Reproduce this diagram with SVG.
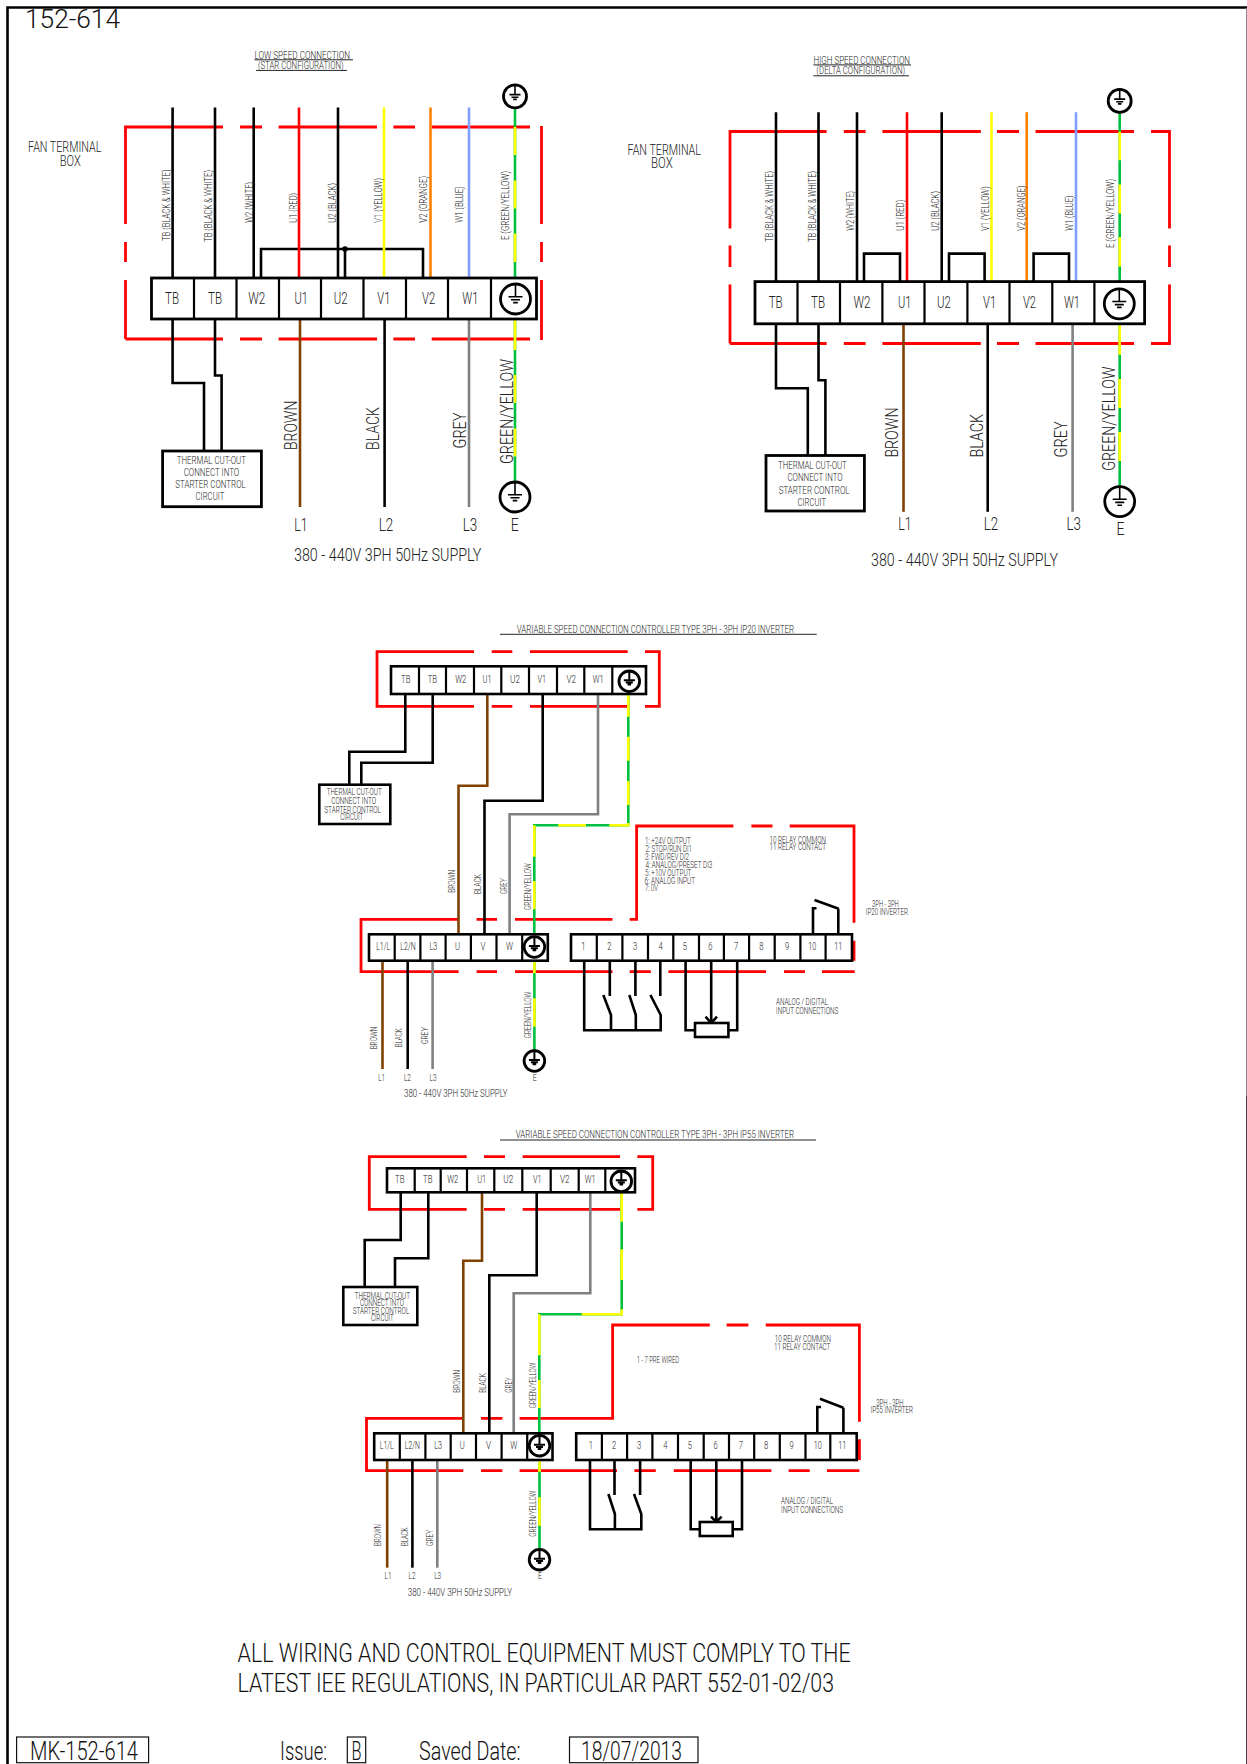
<svg xmlns="http://www.w3.org/2000/svg" xmlns:xlink="http://www.w3.org/1999/xlink" width="1247" height="1764" viewBox="0 0 1247 1764">
<style>
text{font-family:Roboto,"Liberation Sans",Arial,sans-serif;font-weight:300;fill:#222}
.m{text-anchor:middle}
.f26{font-size:26px;fill:#111}.f19{font-size:19px}.f17{font-size:17px}.f15{font-size:14.5px}.f12{font-size:12px}.f11{font-size:11px}.f105{font-size:10.5px}.f10{font-size:10px}.f9{font-size:9px}
.k{stroke:#000;stroke-width:2.6;fill:none}
.r{stroke:#f00;stroke-width:2.8;fill:none}
.br{stroke:#804000;stroke-width:2.6;fill:none}
.gr{stroke:#808080;stroke-width:2.6;fill:none}
.ye{stroke:#ff0;stroke-width:2.6;fill:none}
.gn{stroke:#00c040;stroke-width:2.6;fill:none}
.or{stroke:#ff8000;stroke-width:2.6;fill:none}
.bl{stroke:#80a0ff;stroke-width:2.6;fill:none}
.rd{stroke:#f00;stroke-width:2.6;fill:none}
.u{stroke:#222;stroke-width:1;fill:none}
.box{fill:#fff;stroke:#000;stroke-width:2.8}
.sbox{fill:#fff;stroke:#000;stroke-width:2.6}
.div{stroke:#000;stroke-width:2.2;fill:none}
.ec{fill:#fff;stroke:#000;stroke-width:2.8}
.eb{fill:none;stroke:#000;stroke-width:1.6}
.tb{fill:none;stroke:#111;stroke-width:1.2}
</style>
<defs>
<g id="earthL"><circle class="ec" r="15"/><path class="eb" d="M0-15V-2.5M-7-2.3H7M-4.5 .8H4.5M-2.3 3.6H2.3"/></g>
<g id="earthM"><circle class="ec" r="11.5"/><path class="eb" d="M0-11.5V-2M-5.5-1.8H5.5M-3.5 .8H3.5M-1.8 3H1.8"/></g>
<g id="earthS"><circle class="ec" r="10.3"/><path class="eb" style="stroke-width:2" d="M0-10V-1M-5.5-1H5.5M-3.5 1.2H3.5M-1.8 3.2H1.8"/></g>
</defs>

<g id="page">
<path d="M7.5 1764V7.5H1247" fill="none" stroke="#000" stroke-width="2.6"/>
<path d="M1246.5 8V1096" fill="none" stroke="#888" stroke-width="1"/>
<path d="M1246.5 1096V1764" fill="none" stroke="#444" stroke-width="1"/>
<text class="f26" x="25" y="28" textLength="95" lengthAdjust="spacingAndGlyphs">152-614</text>
</g>

<g id="connectors">
<!-- diagram 1 -->
<path class="r" d="M125.5 127H223M240 127H262M278.6 127H377M393.4 127H415M431.7 127H530M125.5 125.6V224M125.5 242V262M125.5 280V339M125.5 339H223M240 339H262M278.6 339H377M393.4 339H415M431.7 339H530M541.5 126V224M541.5 242V262M541.5 280V340"/>
<path class="k" d="M172.6 107.5V278M215 107.5V278M253.7 107.5V278M338 107.5V278M261 278V249H423V278M345 249V278"/>
<circle cx="345" cy="249" r="2.8" fill="#000"/>
<path class="rd" d="M299 107.5V278"/><path class="ye" d="M384 107.5V278"/><path class="or" d="M430.5 107.5V278"/><path class="bl" d="M469 107.5V278"/>
<path class="gn" d="M515 108V278M515 319V482"/>
<path class="ye" d="M515 127V155M515 180.6V208.6M515 233.5V262M515 319V350M515 375V403M515 428.6V456.6"/>
<path class="k" d="M172.6 319V383H204V451M215 319V375.5H221.6V451"/>
<path class="br" d="M300 319V507"/><path class="k" d="M384.6 319V507"/><path class="gr" d="M469 319V507"/>
<!-- diagram 2 -->
<path class="r" d="M730 131.5H826.6M843.8 131.5H865.6M882.4 131.5H980.8M997 131.5H1019M1035.5 131.5H1134M1151 131.5H1170.9M730 130.1V228.5M730 245.6V267M730 284.5V343.5M730 343.5H826.6M843.8 343.5H865.6M882.4 343.5H980.8M997 343.5H1019M1035.5 343.5H1134M1151 343.5H1170.9M1169.5 130.1V228.5M1169.5 245.6V267M1169.5 284.5V344.9"/>
<path class="k" d="M776 112.2V281.6M818.5 112.2V281.6M857 112.2V281.6M941.7 112.2V281.6M864 281.6V253.6H900V281.6M949 281.6V253.6H984.6V281.6M1033.6 281.6V253.6H1069V281.6"/>
<path class="rd" d="M907 112.2V281.6"/><path class="ye" d="M991.5 112.2V281.6"/><path class="or" d="M1026.7 112.2V281.6"/><path class="bl" d="M1076 112.2V281.6"/>
<path class="gn" d="M1119.7 112.2V281.6M1119.7 323.8V487"/>
<path class="ye" d="M1119.7 131.8V160.2M1119.7 184.5V213.6M1119.7 237.3V266.4M1119.7 323.8V354.7M1119.7 379V408M1119.7 432V461"/>
<path class="k" d="M776 323.8V388.2H807.8V455.5M818.5 323.8V380.2H825.4V455.5"/>
<path class="br" d="M903.5 323.8V511.8"/><path class="k" d="M987.7 323.8V511.8"/><path class="gr" d="M1072.6 323.8V511.8"/>
<!-- diagram 3 -->
<path class="r" d="M377 651.7H474M491.7 651.7H512.3M530 651.7H627.7M645 651.7H660.7M377 650.3V707.7M377 706.3H474M491.7 706.3H512.3M530 706.3H627.7M645 706.3H660.7M659.3 650.3V707.7"/>
<path class="r" d="M458.6 919.3H361V971.7H458.6M476.6 919.3H497M476.6 971.7H497M515 919.3H612.5M515 971.7H612.5M629.7 919.3H636.6V826H733.4M751.4 826H772.5M789.7 826H854V922.7M629.7 971.7H650.8M668.4 971.7H766M784 971.7H805M822 971.7H854.7M854 940.7V960.7"/>
<path class="k" d="M405.3 694V751.7H349.3V784.3M432.7 694V762.7H361.3V784.3"/>
<path class="br" d="M487.3 694V785.7H458.5V934.3"/>
<path class="k" d="M542.7 694V800.7H484.5V934.3"/>
<path class="gr" d="M598 694V814.3H509.6V934.3"/>
<path class="gn" d="M628.3 694V825.3H534.3V934.3M534.4 960.7V1051"/>
<path class="ye" d="M628.3 694V716.7M628.3 736.7V760.7M628.3 781V805M628.3 823V825.3H609.3M586 825.3H558.3M534.3 825.3V856.7M534.3 881V909.3M534.4 960.7V973.3M534.4 998.3V1026.7"/>
<path class="br" d="M382.5 960.7V1069"/><path class="k" d="M407.7 960.7V1069"/><path class="gr" d="M432.6 960.7V1069"/>
<path class="k" d="M813 934V908.3H816.5M814.5 900L838.7 908.7M838.3 908.7V934"/>
<path class="k" d="M584.2 960.7V1030.3H660.7V1015L650.4 995M609.8 960.7V996M603.3 995L611 1015V1030.3M635.4 960.7V996M629.3 995L635.8 1015V1030.3M660.3 960.7V996"/>
<path class="k" d="M685.6 960.7V1030.3H695M737.2 960.7V1030.3H728.4M711.2 960.7V1023M705.5 1016.7L711.2 1023L717 1016.7"/>
<!-- diagram 4 -->
<path class="r" d="M369.3 1156.7H466.7M484 1156.7H505M522.7 1156.7H620M637.3 1156.7H654.1M369.3 1155.3V1210.7M369.3 1209.3H466.7M484 1209.3H505M522.7 1209.3H620M637.3 1209.3H654.1M652.7 1155.3V1210.7"/>
<path class="r" d="M463.3 1418.3H366.5V1470.7H463.3M481 1418.3H502.4M481 1470.7H502.4M519.6 1418.3H612.6V1325H709.8M726.6 1325H748.4M765.7 1325H859.4V1421.7M519.6 1470.7H617M634.4 1470.7H655.8M673.8 1470.7H771.4M788.6 1470.7H809.7M826.9 1470.7H859.4M859.4 1439.3V1460"/>
<path class="k" d="M400.7 1192.3V1240H364.7V1286.7M428.3 1192.3V1258.3H395V1286.7"/>
<path class="br" d="M482 1192.3V1260.7H463.3V1433.3"/>
<path class="k" d="M536.7 1192.3V1275.3H489.3V1433.3"/>
<path class="gr" d="M590.3 1192.3V1293.3H513.7V1433.3"/>
<path class="gn" d="M621.7 1192.3V1314.3H539.3V1433.3M539.5 1460V1550"/>
<path class="ye" d="M621.7 1192.3V1221.7M621.7 1249.3V1280M621.7 1309.3V1314.3H581.7M539.3 1314.3V1355.3M539.3 1380V1408M539.5 1460V1471.7M539.5 1497.3V1525.7"/>
<path class="br" d="M387.2 1460V1567.7"/><path class="k" d="M412.4 1460V1567.7"/><path class="gr" d="M437.3 1460V1567.7"/>
<path class="k" d="M817.3 1433V1407H821M820 1398.7L843.4 1407.7M843.4 1407.7V1433"/>
<path class="k" d="M590 1460V1529.3H641.3V1514L634 1494M614.5 1460V1495M608.4 1494L614.9 1514V1529.3M640.1 1460V1495"/>
<path class="k" d="M690.7 1460V1529.3H699.8M742 1460V1529.3H732.7M716.3 1460V1522M711 1516.7L716.3 1522L721.6 1516.7"/>
<!-- title underlines -->
<path class="u" d="M254.5 59.8H353M256 70.4H347M813.5 64.9H911M813.5 75.8H909M500 634.3H816.7M500 1140H816"/>
</g>

<g id="d1-strip">
<rect class="box" x="151.5" y="278" width="385" height="41"/>
<path class="div" d="M194 278V319M236.5 278V319M279 278V319M321 278V319M363.5 278V319M406 278V319M448 278V319M491 278V319"/>
<text class="m f17" x="172" y="304.2" textLength="14" lengthAdjust="spacingAndGlyphs">TB</text>
<text class="m f17" x="215" y="304.2" textLength="14" lengthAdjust="spacingAndGlyphs">TB</text>
<text class="m f17" x="256.8" y="304.2" textLength="17" lengthAdjust="spacingAndGlyphs">W2</text>
<text class="m f17" x="301.2" y="304.2" textLength="13.4" lengthAdjust="spacingAndGlyphs">U1</text>
<text class="m f17" x="340.6" y="304.2" textLength="13.8" lengthAdjust="spacingAndGlyphs">U2</text>
<text class="m f17" x="383.8" y="304.2" textLength="13" lengthAdjust="spacingAndGlyphs">V1</text>
<text class="m f17" x="428.6" y="304.2" textLength="13" lengthAdjust="spacingAndGlyphs">V2</text>
<text class="m f17" x="470.3" y="304.2" textLength="16" lengthAdjust="spacingAndGlyphs">W1</text>
<use xlink:href="#earthL" href="#earthL" transform="translate(515.5 299)"/>
</g>
<g id="d1-earth-top"><use xlink:href="#earthM" href="#earthM" transform="translate(515 96.4)"/></g>
<g id="d1-earth-bottom"><use xlink:href="#earthL" href="#earthL" transform="translate(515 497)"/></g>
<g id="d1-thermal">
<rect class="box" x="162.6" y="451" width="98.8" height="55.7"/>
<text class="f105" x="176.8" y="463.8" textLength="69.2" lengthAdjust="spacingAndGlyphs">THERMAL CUT-OUT</text>
<text class="f105" x="183.7" y="476" textLength="55.5" lengthAdjust="spacingAndGlyphs">CONNECT INTO</text>
<text class="f105" x="175.3" y="488" textLength="70.4" lengthAdjust="spacingAndGlyphs">STARTER CONTROL</text>
<text class="f105" x="195.6" y="500.2" textLength="28.7" lengthAdjust="spacingAndGlyphs">CIRCUIT</text>
</g>
<g id="d1-labels">
<text class="f105" x="254.5" y="58.5" textLength="95.5" lengthAdjust="spacingAndGlyphs">LOW SPEED CONNECTION</text>
<text class="f105" x="258" y="69.3" textLength="85.6" lengthAdjust="spacingAndGlyphs">(STAR CONFIGURATION)</text>
<text class="f15" x="28" y="151.5" textLength="73.4" lengthAdjust="spacingAndGlyphs">FAN TERMINAL</text>
<text class="f15" x="59.7" y="165.5" textLength="21" lengthAdjust="spacingAndGlyphs">BOX</text>
<text class="f11" transform="translate(169.5 241) rotate(-90)" textLength="71.5" lengthAdjust="spacingAndGlyphs">TB (BLACK &amp; WHITE)</text>
<text class="f11" transform="translate(212.4 242) rotate(-90)" textLength="72" lengthAdjust="spacingAndGlyphs">TB (BLACK &amp; WHITE)</text>
<text class="f11" transform="translate(252.5 222.7) rotate(-90)" textLength="40.7" lengthAdjust="spacingAndGlyphs">W2 (WHITE)</text>
<text class="f11" transform="translate(297 222.7) rotate(-90)" textLength="29.7" lengthAdjust="spacingAndGlyphs">U1 (RED)</text>
<text class="f11" transform="translate(336 222.7) rotate(-90)" textLength="39.7" lengthAdjust="spacingAndGlyphs">U2 (BLACK)</text>
<text class="f11" transform="translate(382 222.7) rotate(-90)" textLength="44.7" lengthAdjust="spacingAndGlyphs">V1 (YELLOW)</text>
<text class="f11" transform="translate(426.7 222.7) rotate(-90)" textLength="46.7" lengthAdjust="spacingAndGlyphs">V2 (ORANGE)</text>
<text class="f11" transform="translate(463 222.7) rotate(-90)" textLength="36.3" lengthAdjust="spacingAndGlyphs">W1 (BLUE)</text>
<text class="f11" transform="translate(509 240) rotate(-90)" textLength="69" lengthAdjust="spacingAndGlyphs">E (GREEN/YELLOW)</text>
<text class="f19" transform="translate(296.6 450) rotate(-90)" textLength="49.3" lengthAdjust="spacingAndGlyphs">BROWN</text>
<text class="f19" transform="translate(379 450) rotate(-90)" textLength="43" lengthAdjust="spacingAndGlyphs">BLACK</text>
<text class="f19" transform="translate(465.7 448.5) rotate(-90)" textLength="36" lengthAdjust="spacingAndGlyphs">GREY</text>
<text class="f19" transform="translate(512.8 464) rotate(-90)" textLength="105" lengthAdjust="spacingAndGlyphs">GREEN/YELLOW</text>
<text class="m f19" x="301" y="531" textLength="13.4" lengthAdjust="spacingAndGlyphs">L1</text>
<text class="m f19" x="386" y="531" textLength="14.5" lengthAdjust="spacingAndGlyphs">L2</text>
<text class="m f19" x="470" y="531" textLength="14.5" lengthAdjust="spacingAndGlyphs">L3</text>
<text class="m f19" x="514.7" y="531" textLength="8" lengthAdjust="spacingAndGlyphs">E</text>
<text class="f19" x="294" y="561" textLength="187.4" lengthAdjust="spacingAndGlyphs">380 - 440V 3PH 50Hz SUPPLY</text>
</g>

<g id="d2-strip">
<rect class="box" x="755" y="281.6" width="389.6" height="42.2"/>
<path class="div" d="M797.5 281.6V323.8M840 281.6V323.8M882.4 281.6V323.8M924.5 281.6V323.8M967.4 281.6V323.8M1009.5 281.6V323.8M1052.3 281.6V323.8M1094.4 281.6V323.8"/>
<text class="m f17" x="775.7" y="308.2" textLength="14" lengthAdjust="spacingAndGlyphs">TB</text>
<text class="m f17" x="818" y="308.2" textLength="14" lengthAdjust="spacingAndGlyphs">TB</text>
<text class="m f17" x="862" y="308.2" textLength="17" lengthAdjust="spacingAndGlyphs">W2</text>
<text class="m f17" x="904.6" y="308.2" textLength="13.4" lengthAdjust="spacingAndGlyphs">U1</text>
<text class="m f17" x="944" y="308.2" textLength="13.8" lengthAdjust="spacingAndGlyphs">U2</text>
<text class="m f17" x="989.6" y="308.2" textLength="13" lengthAdjust="spacingAndGlyphs">V1</text>
<text class="m f17" x="1029.4" y="308.2" textLength="13" lengthAdjust="spacingAndGlyphs">V2</text>
<text class="m f17" x="1071.9" y="308.2" textLength="16" lengthAdjust="spacingAndGlyphs">W1</text>
<use xlink:href="#earthL" href="#earthL" transform="translate(1119.3 303.8)"/>
</g>
<g id="d2-earth-top"><use xlink:href="#earthM" href="#earthM" transform="translate(1119.7 100.9)"/></g>
<g id="d2-earth-bottom"><use xlink:href="#earthL" href="#earthL" transform="translate(1119.7 501.6)"/></g>
<g id="d2-thermal">
<rect class="box" x="766" y="455.5" width="98.4" height="55.5"/>
<text class="f105" x="778" y="469" textLength="68.8" lengthAdjust="spacingAndGlyphs">THERMAL CUT-OUT</text>
<text class="f105" x="787.5" y="481.3" textLength="55.1" lengthAdjust="spacingAndGlyphs">CONNECT INTO</text>
<text class="f105" x="778.7" y="494" textLength="70.8" lengthAdjust="spacingAndGlyphs">STARTER CONTROL</text>
<text class="f105" x="797.5" y="506" textLength="28.5" lengthAdjust="spacingAndGlyphs">CIRCUIT</text>
</g>
<g id="d2-labels">
<text class="f105" x="813.5" y="63.5" textLength="96.5" lengthAdjust="spacingAndGlyphs">HIGH SPEED CONNECTION</text>
<text class="f105" x="816.6" y="74.4" textLength="88.4" lengthAdjust="spacingAndGlyphs">(DELTA CONFIGURATION)</text>
<text class="f15" x="627.5" y="154.7" textLength="73.5" lengthAdjust="spacingAndGlyphs">FAN TERMINAL</text>
<text class="f15" x="651" y="168.2" textLength="21.7" lengthAdjust="spacingAndGlyphs">BOX</text>
<text class="f11" transform="translate(773.4 242) rotate(-90)" textLength="71" lengthAdjust="spacingAndGlyphs">TB (BLACK &amp; WHITE)</text>
<text class="f11" transform="translate(816 242) rotate(-90)" textLength="71" lengthAdjust="spacingAndGlyphs">TB (BLACK &amp; WHITE)</text>
<text class="f11" transform="translate(853.7 230.7) rotate(-90)" textLength="39.7" lengthAdjust="spacingAndGlyphs">W2 (WHITE)</text>
<text class="f11" transform="translate(903.5 230.7) rotate(-90)" textLength="30.9" lengthAdjust="spacingAndGlyphs">U1 (RED)</text>
<text class="f11" transform="translate(938.7 230.7) rotate(-90)" textLength="39.7" lengthAdjust="spacingAndGlyphs">U2 (BLACK)</text>
<text class="f11" transform="translate(988.8 230.7) rotate(-90)" textLength="44.3" lengthAdjust="spacingAndGlyphs">V1 (YELLOW)</text>
<text class="f11" transform="translate(1024.8 230.7) rotate(-90)" textLength="45.1" lengthAdjust="spacingAndGlyphs">V2 (ORANGE)</text>
<text class="f11" transform="translate(1073.4 230.7) rotate(-90)" textLength="35.2" lengthAdjust="spacingAndGlyphs">W1 (BLUE)</text>
<text class="f11" transform="translate(1113.6 248) rotate(-90)" textLength="69" lengthAdjust="spacingAndGlyphs">E (GREEN/YELLOW)</text>
<text class="f19" transform="translate(897.7 457.6) rotate(-90)" textLength="50.1" lengthAdjust="spacingAndGlyphs">BROWN</text>
<text class="f19" transform="translate(983 457.6) rotate(-90)" textLength="43.6" lengthAdjust="spacingAndGlyphs">BLACK</text>
<text class="f19" transform="translate(1067 457.6) rotate(-90)" textLength="36.3" lengthAdjust="spacingAndGlyphs">GREY</text>
<text class="f19" transform="translate(1114.7 470.7) rotate(-90)" textLength="104.3" lengthAdjust="spacingAndGlyphs">GREEN/YELLOW</text>
<text class="m f19" x="905" y="530" textLength="13.4" lengthAdjust="spacingAndGlyphs">L1</text>
<text class="m f19" x="991" y="530" textLength="14.5" lengthAdjust="spacingAndGlyphs">L2</text>
<text class="m f19" x="1073.8" y="530" textLength="14.5" lengthAdjust="spacingAndGlyphs">L3</text>
<text class="m f19" x="1120.5" y="534.7" textLength="8" lengthAdjust="spacingAndGlyphs">E</text>
<text class="f19" x="871" y="566" textLength="187" lengthAdjust="spacingAndGlyphs">380 - 440V 3PH 50Hz SUPPLY</text>
</g>

<g id="d3-motor-strip">
<rect class="sbox" x="391" y="666.3" width="255" height="27.7"/>
<path class="div" d="M419 666.3V694M446 666.3V694M474 666.3V694M501.3 666.3V694M529 666.3V694M557 666.3V694M584.3 666.3V694M612.3 666.3V694"/>
<text class="m f11" x="405.7" y="682.7" textLength="9.3" lengthAdjust="spacingAndGlyphs">TB</text>
<text class="m f11" x="432.3" y="682.7" textLength="9.3" lengthAdjust="spacingAndGlyphs">TB</text>
<text class="m f11" x="460.7" y="682.7" textLength="11" lengthAdjust="spacingAndGlyphs">W2</text>
<text class="m f11" x="487" y="682.7" textLength="9" lengthAdjust="spacingAndGlyphs">U1</text>
<text class="m f11" x="515" y="682.7" textLength="10" lengthAdjust="spacingAndGlyphs">U2</text>
<text class="m f11" x="541.7" y="682.7" textLength="8.5" lengthAdjust="spacingAndGlyphs">V1</text>
<text class="m f11" x="571.3" y="682.7" textLength="9.5" lengthAdjust="spacingAndGlyphs">V2</text>
<text class="m f11" x="598.3" y="682.7" textLength="11" lengthAdjust="spacingAndGlyphs">W1</text>
<use xlink:href="#earthS" href="#earthS" transform="translate(629.3 681.3)"/>
</g>
<g id="d3-thermal">
<rect class="sbox" x="319.3" y="784.7" width="71" height="39.3"/>
<text class="f9" x="326.7" y="795" textLength="55" lengthAdjust="spacingAndGlyphs">THERMAL CUT-OUT</text>
<text class="f9" x="331.3" y="804" textLength="44.7" lengthAdjust="spacingAndGlyphs">CONNECT INTO</text>
<text class="f9" x="324.3" y="813" textLength="56.7" lengthAdjust="spacingAndGlyphs">STARTER CONTROL</text>
<text class="f9" x="340.3" y="820" textLength="23" lengthAdjust="spacingAndGlyphs">CIRCUIT</text>
</g>
<g id="d3-input-strip">
<rect class="sbox" x="369" y="934.3" width="178.8" height="26.4"/>
<path class="div" d="M394.7 934.3V960.7M420.4 934.3V960.7M445.6 934.3V960.7M470.9 934.3V960.7M496.5 934.3V960.7M522.2 934.3V960.7"/>
<text class="m f11" x="383.2" y="950" textLength="14" lengthAdjust="spacingAndGlyphs">L1/L</text>
<text class="m f11" x="408" y="950" textLength="15.3" lengthAdjust="spacingAndGlyphs">L2/N</text>
<text class="m f11" x="433.4" y="950" textLength="7.7" lengthAdjust="spacingAndGlyphs">L3</text>
<text class="m f11" x="457.5" y="950" textLength="5" lengthAdjust="spacingAndGlyphs">U</text>
<text class="m f11" x="483" y="950" textLength="5" lengthAdjust="spacingAndGlyphs">V</text>
<text class="m f11" x="509.5" y="950" textLength="7" lengthAdjust="spacingAndGlyphs">W</text>
<use xlink:href="#earthS" href="#earthS" transform="translate(534.4 947)"/>
</g>
<g id="d3-control-strip">
<rect class="sbox" x="571" y="934.3" width="281" height="26.4"/>
<path class="div" d="M596.8 934.3V960.7M622.4 934.3V960.7M648 934.3V960.7M673.3 934.3V960.7M699 934.3V960.7M723.9 934.3V960.7M749.1 934.3V960.7M774.7 934.3V960.7M800.4 934.3V960.7M825.6 934.3V960.7"/>
<text class="m f11" x="583.4" y="950" textLength="4.2" lengthAdjust="spacingAndGlyphs">1</text><text class="m f11" x="609.4" y="950" textLength="4.2" lengthAdjust="spacingAndGlyphs">2</text><text class="m f11" x="635" y="950" textLength="4.2" lengthAdjust="spacingAndGlyphs">3</text><text class="m f11" x="660.7" y="950" textLength="4.2" lengthAdjust="spacingAndGlyphs">4</text><text class="m f11" x="684.8" y="950" textLength="4.2" lengthAdjust="spacingAndGlyphs">5</text><text class="m f11" x="710.4" y="950" textLength="4.2" lengthAdjust="spacingAndGlyphs">6</text><text class="m f11" x="736" y="950" textLength="4.2" lengthAdjust="spacingAndGlyphs">7</text><text class="m f11" x="761.4" y="950" textLength="4.2" lengthAdjust="spacingAndGlyphs">8</text><text class="m f11" x="787" y="950" textLength="4.2" lengthAdjust="spacingAndGlyphs">9</text>
<text class="m f11" x="812.3" y="950" textLength="8" lengthAdjust="spacingAndGlyphs">10</text><text class="m f11" x="838.3" y="950" textLength="8" lengthAdjust="spacingAndGlyphs">11</text>
</g>
<g id="d3-earth-bottom"><use xlink:href="#earthS" href="#earthS" transform="translate(534.4 1061)"/></g>
<g id="d3-pot"><rect class="sbox" x="695" y="1023" width="33.4" height="14"/></g>
<g id="d3-labels">
<text class="f10" x="516.7" y="632.7" textLength="277.3" lengthAdjust="spacingAndGlyphs">VARIABLE SPEED CONNECTION CONTROLLER TYPE 3PH - 3PH IP20 INVERTER</text>
<text class="f9" transform="translate(454.8 892.7) rotate(-90)" textLength="22.7" lengthAdjust="spacingAndGlyphs">BROWN</text>
<text class="f9" transform="translate(481.2 894) rotate(-90)" textLength="20" lengthAdjust="spacingAndGlyphs">BLACK</text>
<text class="f9" transform="translate(506.9 894) rotate(-90)" textLength="15.7" lengthAdjust="spacingAndGlyphs">GREY</text>
<text class="f9" transform="translate(531 910) rotate(-90)" textLength="46.7" lengthAdjust="spacingAndGlyphs">GREEN/YELLOW</text>
<text class="f9" transform="translate(377 1049.3) rotate(-90)" textLength="22.6" lengthAdjust="spacingAndGlyphs">BROWN</text>
<text class="f9" transform="translate(402.4 1047.3) rotate(-90)" textLength="19" lengthAdjust="spacingAndGlyphs">BLACK</text>
<text class="f9" transform="translate(427.6 1044) rotate(-90)" textLength="16.7" lengthAdjust="spacingAndGlyphs">GREY</text>
<text class="f9" transform="translate(531 1038.3) rotate(-90)" textLength="46.6" lengthAdjust="spacingAndGlyphs">GREEN/YELLOW</text>
<text class="m f9" x="381.7" y="1080.7" textLength="7" lengthAdjust="spacingAndGlyphs">L1</text>
<text class="m f9" x="407.4" y="1080.7" textLength="7" lengthAdjust="spacingAndGlyphs">L2</text>
<text class="m f9" x="433" y="1080.7" textLength="7" lengthAdjust="spacingAndGlyphs">L3</text>
<text class="m f9" x="534.8" y="1080.7" textLength="4" lengthAdjust="spacingAndGlyphs">E</text>
<text class="f11" x="404" y="1096.7" textLength="103.6" lengthAdjust="spacingAndGlyphs">380 - 440V 3PH 50Hz SUPPLY</text>
<text class="f9" x="645" y="844" textLength="45.6" lengthAdjust="spacingAndGlyphs">1: +24V OUTPUT</text>
<text class="f9" x="645.4" y="852" textLength="46.6" lengthAdjust="spacingAndGlyphs">2: STOP/RUN DI1</text>
<text class="f9" x="645" y="860" textLength="44" lengthAdjust="spacingAndGlyphs">3: FWD/REV DI2</text>
<text class="f9" x="645.4" y="868" textLength="67" lengthAdjust="spacingAndGlyphs">4: ANALOG/PRESET DI3</text>
<text class="f9" x="645" y="876" textLength="46.3" lengthAdjust="spacingAndGlyphs">5: +10V OUTPUT</text>
<text class="f9" x="644.6" y="884" textLength="50.4" lengthAdjust="spacingAndGlyphs">6: ANALOG INPUT</text>
<text class="f9" x="645" y="891.3" textLength="13" lengthAdjust="spacingAndGlyphs">7: 0V</text>
<text class="f9" x="769.4" y="842.7" textLength="56.6" lengthAdjust="spacingAndGlyphs">10 RELAY COMMON</text>
<text class="f9" x="769.4" y="850" textLength="56.6" lengthAdjust="spacingAndGlyphs">11 RELAY CONTACT</text>
<text class="f9" x="872" y="906.7" textLength="26.7" lengthAdjust="spacingAndGlyphs">3PH - 3PH</text>
<text class="f9" x="865.8" y="915" textLength="42.2" lengthAdjust="spacingAndGlyphs">IP20 INVERTER</text>
<text class="f9" x="776" y="1004.7" textLength="52" lengthAdjust="spacingAndGlyphs">ANALOG / DIGITAL</text>
<text class="f9" x="776" y="1013.7" textLength="62.3" lengthAdjust="spacingAndGlyphs">INPUT CONNECTIONS</text>
</g>

<g id="d4-motor-strip">
<rect class="sbox" x="387" y="1168.3" width="248" height="24"/>
<path class="div" d="M414.7 1168.3V1192.3M440.7 1168.3V1192.3M467 1168.3V1192.3M494.3 1168.3V1192.3M522.3 1168.3V1192.3M550.7 1168.3V1192.3M578.7 1168.3V1192.3M605.3 1168.3V1192.3"/>
<text class="m f11" x="399.7" y="1182.7" textLength="9.3" lengthAdjust="spacingAndGlyphs">TB</text>
<text class="m f11" x="427.7" y="1182.7" textLength="9.3" lengthAdjust="spacingAndGlyphs">TB</text>
<text class="m f11" x="452.7" y="1182.7" textLength="11" lengthAdjust="spacingAndGlyphs">W2</text>
<text class="m f11" x="481.7" y="1182.7" textLength="9" lengthAdjust="spacingAndGlyphs">U1</text>
<text class="m f11" x="508.3" y="1182.7" textLength="10" lengthAdjust="spacingAndGlyphs">U2</text>
<text class="m f11" x="537.3" y="1182.7" textLength="8.5" lengthAdjust="spacingAndGlyphs">V1</text>
<text class="m f11" x="564.7" y="1182.7" textLength="9.5" lengthAdjust="spacingAndGlyphs">V2</text>
<text class="m f11" x="590.3" y="1182.7" textLength="11" lengthAdjust="spacingAndGlyphs">W1</text>
<use xlink:href="#earthS" href="#earthS" transform="translate(621.3 1181.3)"/>
</g>
<g id="d4-thermal">
<rect class="sbox" x="343.3" y="1287" width="74" height="38"/>
<text class="f9" x="354.7" y="1298.7" textLength="55.3" lengthAdjust="spacingAndGlyphs">THERMAL CUT-OUT</text>
<text class="f9" x="360" y="1305.7" textLength="44" lengthAdjust="spacingAndGlyphs">CONNECT INTO</text>
<text class="f9" x="352.7" y="1313.7" textLength="56.6" lengthAdjust="spacingAndGlyphs">STARTER CONTROL</text>
<text class="f9" x="371" y="1320.7" textLength="22.7" lengthAdjust="spacingAndGlyphs">CIRCUIT</text>
</g>
<g id="d4-input-strip">
<rect class="sbox" x="374.2" y="1433.3" width="178.3" height="26.7"/>
<path class="div" d="M399.8 1433.3V1460M425.4 1433.3V1460M450.7 1433.3V1460M476 1433.3V1460M501.6 1433.3V1460M527.2 1433.3V1460"/>
<text class="m f11" x="386.8" y="1449" textLength="14" lengthAdjust="spacingAndGlyphs">L1/L</text>
<text class="m f11" x="412.4" y="1449" textLength="15.3" lengthAdjust="spacingAndGlyphs">L2/N</text>
<text class="m f11" x="438" y="1449" textLength="7.7" lengthAdjust="spacingAndGlyphs">L3</text>
<text class="m f11" x="462.2" y="1449" textLength="5" lengthAdjust="spacingAndGlyphs">U</text>
<text class="m f11" x="488.6" y="1449" textLength="5" lengthAdjust="spacingAndGlyphs">V</text>
<text class="m f11" x="513.8" y="1449" textLength="7" lengthAdjust="spacingAndGlyphs">W</text>
<use xlink:href="#earthS" href="#earthS" transform="translate(539.5 1445.7)"/>
</g>
<g id="d4-control-strip">
<rect class="sbox" x="576.2" y="1433.3" width="280.5" height="26.7"/>
<path class="div" d="M601.9 1433.3V1460M627.1 1433.3V1460M652.4 1433.3V1460M678 1433.3V1460M703.7 1433.3V1460M729 1433.3V1460M754.2 1433.3V1460M779.8 1433.3V1460M805.5 1433.3V1460M830.3 1433.3V1460"/>
<text class="m f11" x="590.8" y="1449" textLength="4.2" lengthAdjust="spacingAndGlyphs">1</text><text class="m f11" x="614" y="1449" textLength="4.2" lengthAdjust="spacingAndGlyphs">2</text><text class="m f11" x="639" y="1449" textLength="4.2" lengthAdjust="spacingAndGlyphs">3</text><text class="m f11" x="665.4" y="1449" textLength="4.2" lengthAdjust="spacingAndGlyphs">4</text><text class="m f11" x="689.9" y="1449" textLength="4.2" lengthAdjust="spacingAndGlyphs">5</text><text class="m f11" x="715.5" y="1449" textLength="4.2" lengthAdjust="spacingAndGlyphs">6</text><text class="m f11" x="740.8" y="1449" textLength="4.2" lengthAdjust="spacingAndGlyphs">7</text><text class="m f11" x="766" y="1449" textLength="4.2" lengthAdjust="spacingAndGlyphs">8</text><text class="m f11" x="791.7" y="1449" textLength="4.2" lengthAdjust="spacingAndGlyphs">9</text>
<text class="m f11" x="817.7" y="1449" textLength="8" lengthAdjust="spacingAndGlyphs">10</text><text class="m f11" x="842.2" y="1449" textLength="8" lengthAdjust="spacingAndGlyphs">11</text>
</g>
<g id="d4-earth-bottom"><use xlink:href="#earthS" href="#earthS" transform="translate(539.5 1559.7)"/></g>
<g id="d4-pot"><rect class="sbox" x="699.8" y="1522" width="32.9" height="14"/></g>
<g id="d4-labels">
<text class="f10" x="515.7" y="1137.7" textLength="278.3" lengthAdjust="spacingAndGlyphs">VARIABLE SPEED CONNECTION CONTROLLER TYPE 3PH - 3PH IP55 INVERTER</text>
<text class="f9" transform="translate(460 1392.7) rotate(-90)" textLength="22.7" lengthAdjust="spacingAndGlyphs">BROWN</text>
<text class="f9" transform="translate(486.3 1392.7) rotate(-90)" textLength="19.4" lengthAdjust="spacingAndGlyphs">BLACK</text>
<text class="f9" transform="translate(512 1392.7) rotate(-90)" textLength="15.4" lengthAdjust="spacingAndGlyphs">GREY</text>
<text class="f9" transform="translate(536.4 1408.3) rotate(-90)" textLength="45.6" lengthAdjust="spacingAndGlyphs">GREEN/YELLOW</text>
<text class="f9" transform="translate(381.4 1546) rotate(-90)" textLength="22" lengthAdjust="spacingAndGlyphs">BROWN</text>
<text class="f9" transform="translate(407.5 1546) rotate(-90)" textLength="18.7" lengthAdjust="spacingAndGlyphs">BLACK</text>
<text class="f9" transform="translate(432.7 1546) rotate(-90)" textLength="16" lengthAdjust="spacingAndGlyphs">GREY</text>
<text class="f9" transform="translate(536.4 1536.7) rotate(-90)" textLength="46" lengthAdjust="spacingAndGlyphs">GREEN/YELLOW</text>
<text class="m f9" x="388" y="1578.7" textLength="7" lengthAdjust="spacingAndGlyphs">L1</text>
<text class="m f9" x="412" y="1578.7" textLength="7" lengthAdjust="spacingAndGlyphs">L2</text>
<text class="m f9" x="437.7" y="1578.7" textLength="7" lengthAdjust="spacingAndGlyphs">L3</text>
<text class="m f9" x="539.9" y="1578.7" textLength="4" lengthAdjust="spacingAndGlyphs">E</text>
<text class="f11" x="407.8" y="1595.7" textLength="104.2" lengthAdjust="spacingAndGlyphs">380 - 440V 3PH 50Hz SUPPLY</text>
<text class="f9" x="636.7" y="1362.7" textLength="42.5" lengthAdjust="spacingAndGlyphs">1 - 7 PRE WIRED</text>
<text class="f9" x="774.8" y="1341.7" textLength="56.2" lengthAdjust="spacingAndGlyphs">10 RELAY COMMON</text>
<text class="f9" x="774" y="1349.7" textLength="56.3" lengthAdjust="spacingAndGlyphs">11 RELAY CONTACT</text>
<text class="f9" x="876.3" y="1405.7" textLength="27.1" lengthAdjust="spacingAndGlyphs">3PH - 3PH</text>
<text class="f9" x="870.5" y="1412.7" textLength="42.5" lengthAdjust="spacingAndGlyphs">IP55 INVERTER</text>
<text class="f9" x="781" y="1503.7" textLength="52" lengthAdjust="spacingAndGlyphs">ANALOG / DIGITAL</text>
<text class="f9" x="781" y="1512.7" textLength="62" lengthAdjust="spacingAndGlyphs">INPUT CONNECTIONS</text>
</g>

<g id="footer">
<text class="f26" x="237.6" y="1662" textLength="613" lengthAdjust="spacingAndGlyphs">ALL WIRING AND CONTROL EQUIPMENT MUST COMPLY TO THE</text>
<text class="f26" x="237.6" y="1692" textLength="596.4" lengthAdjust="spacingAndGlyphs">LATEST IEE REGULATIONS, IN PARTICULAR PART 552-01-02/03</text>
<g id="drawing-number"><rect class="tb" x="16.6" y="1737" width="132" height="25.7" fill="#fff"/><text class="f26" x="30" y="1760" textLength="108" lengthAdjust="spacingAndGlyphs">MK-152-614</text></g>
<text class="f26" x="280" y="1760" textLength="47" lengthAdjust="spacingAndGlyphs">Issue:</text>
<g id="issue"><rect class="tb" x="347.3" y="1737" width="18.4" height="25.7"/><text class="m f26" x="356.5" y="1760" textLength="10" lengthAdjust="spacingAndGlyphs">B</text></g>
<text class="f26" x="419" y="1760" textLength="101.7" lengthAdjust="spacingAndGlyphs">Saved Date:</text>
<g id="saved-date"><rect class="tb" x="569.5" y="1737" width="128.5" height="25.7"/><text class="f26" x="581" y="1760" textLength="101" lengthAdjust="spacingAndGlyphs">18/07/2013</text></g>
</g>
</svg>
